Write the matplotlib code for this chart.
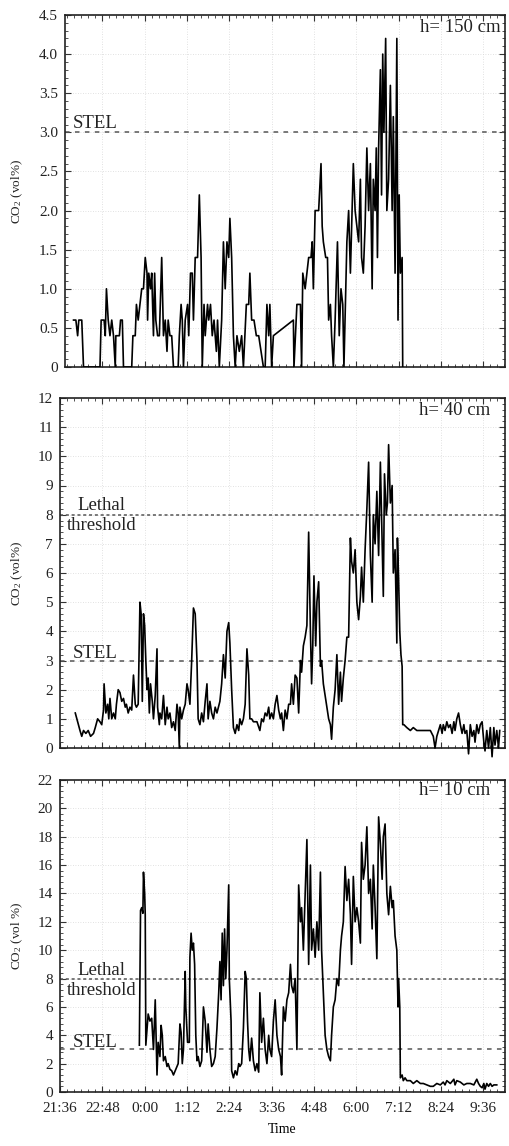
import matplotlib
matplotlib.use('Agg')
import matplotlib.pyplot as plt
from matplotlib.ticker import FixedLocator, AutoMinorLocator

plt.rcParams['font.family'] = ['Liberation Serif', 'DejaVu Serif']
plt.rcParams['mathtext.fontset'] = 'custom'
plt.rcParams['mathtext.rm'] = 'Liberation Serif'
plt.rcParams['mathtext.it'] = 'Liberation Serif:italic'

# ---------------- data (time in minutes after 21:36) ----------------
time_ticks = [0, 72, 144, 216, 288, 360, 432, 504, 576, 648, 720]
time_labels = ['21:36', '22:48', '0:00', '1:12', '2:24', '3:36',
               '4:48', '6:00', '7:12', '8:24', '9:36']

STEL = 3.0
LETHAL = 8.0

# h = 150 cm
t150 = [23, 27, 30, 32, 37, 40, 68, 70, 75, 77, 79, 82, 85, 88, 91, 94, 95, 101,
        103, 106, 108, 122, 124, 128, 130, 133, 136, 139, 142, 145, 148, 149, 151,
        154, 156, 159, 161, 163, 166, 169, 173, 176, 179, 182, 184, 187, 190, 193,
        201, 203, 206, 208, 210, 213, 217, 219, 222, 225, 227, 230, 234, 237, 240,
        242, 245, 247, 251, 253, 256, 259, 262, 266, 268, 271, 275, 278, 281, 284,
        287, 289, 292, 295, 298, 301, 305, 309, 312, 317, 321, 323, 326, 330, 334,
        338, 346, 349, 352, 355, 357, 360, 363, 397, 398, 403, 409, 411, 413, 417,
        420, 423, 427, 429, 431, 434, 440, 444, 446, 448, 452, 455, 457, 460, 462,
        465, 468, 472, 475, 478, 481, 483, 488, 491, 494, 499, 502, 505, 508, 511,
        513, 516, 519, 522, 525, 528, 531, 533, 536, 538, 540, 542, 545, 547, 549,
        551, 554, 556, 559, 562, 565, 567, 570, 573, 575, 577, 579, 582, 583]
co2_150 = [0.6, 0.6, 0.4, 0.6, 0.6, 0, 0, 0.6, 0.6, 0.4, 1.0, 0.6, 0.4, 0.6, 0.4, 0, 0.4, 0.4,
           0.6, 0.6, 0, 0, 0.4, 0.4, 0.8, 0.6, 0.8, 1.0, 1.0, 1.4, 1.2, 0.6, 1.2,
           1.0, 1.2, 0.4, 1.2, 0.6, 0.4, 0.4, 1.4, 0.4, 0.6, 0.2, 0.6, 0.4, 0.4, 0,
           0, 0.4, 0.8, 0.6, 0, 0.6, 0.8, 0.4, 1.2, 1.2, 0.6, 1.4, 1.4, 2.2, 1.4,
           0, 0.8, 0.4, 0.8, 0.6, 0.8, 0.4, 0.6, 0.2, 0.6, 0, 0.6, 1.6, 1.0, 1.6,
           1.4, 1.9, 1.4, 0.4, 0, 0.4, 0.2, 0.4, 0, 0.8, 0.8, 1.2, 0.6, 0.6, 0.4,
           0.4, 0, 0, 0.8, 0.4, 0.8, 0, 0.4, 0.6, 0, 0.8, 0.8, 0, 1.2, 1.0,
           1.2, 1.4, 1.4, 1.6, 1.0, 2.0, 2.0, 2.6, 1.8, 1.6, 1.4, 1.4, 0.6, 0.8, 0.4,
           0, 0.6, 1.6, 0.4, 1.0, 0.8, 0, 1.6, 2.0, 1.2, 2.6, 2.0, 1.8, 1.6, 2.4,
           1.4, 1.2, 1.8, 2.8, 2.0, 2.6, 1.0, 2.4, 2.0, 2.8, 1.4, 2.8, 3.8, 2.2, 4.0,
           3.0, 4.2, 2.0, 2.4, 3.6, 2.0, 3.2, 1.2, 4.2, 0.6, 2.2, 1.2, 1.4, 0]

# h = 40 cm
t40 = [26, 30, 34, 37, 40, 44, 48, 52, 57, 60, 64, 68, 71, 74, 75, 78, 81, 83, 85, 88,
       91, 94, 96, 99, 102, 105, 108, 111, 113, 116, 119, 122, 125, 128, 130, 133,
       136, 138, 140, 142, 144, 146, 148, 150, 152, 154, 157, 159, 162, 165, 166,
       169, 170, 173, 176, 179, 182, 184, 187, 190, 193, 196, 199, 201, 203, 204,
       207, 210, 213, 216, 218, 221, 224, 227, 230, 233, 235, 238, 241, 244, 247,
       250, 252, 255, 258, 261, 264, 267, 272, 275, 278, 281, 284, 287, 289, 292,
       295, 298, 301, 304, 306, 309, 312, 315, 318, 321, 323, 326, 329, 335, 340,
       343, 346, 349, 352, 355, 357, 360, 363, 366, 369, 372, 375, 377, 380, 383,
       386, 389, 392, 394, 397, 400, 403, 406, 409, 411, 414, 417, 420, 423, 426,
       428, 430, 432, 435, 437, 440, 443, 445, 448, 451, 454, 457, 460, 462, 465,
       468, 471, 474, 477, 479, 482, 485, 488, 491, 494, 496, 499, 502, 505, 508,
       511, 513, 516, 519, 522, 525, 528, 531, 533, 536, 539, 542, 545, 548, 550,
       552, 555, 557, 559, 562, 565, 567, 570, 573, 574, 576, 578, 580, 582, 583,
       585, 590, 596, 601, 607, 613, 618, 624, 630, 635, 638, 641, 644, 647, 650,
       652, 655, 658, 661, 664, 667, 670, 672, 675, 678, 681, 684, 687, 689, 692,
       695, 698, 701, 704, 706, 709, 712, 715, 718, 721, 723, 726, 729, 732, 735,
       738, 740, 743, 746, 748]
co2_40 = [1.2, 0.9, 0.6, 0.4, 0.6, 0.5, 0.6, 0.4, 0.5, 0.7, 1.0, 0.9, 0.8, 1.3, 2.2, 1.2, 1.5, 1.0, 1.7, 1.0,
          1.2, 1.0, 1.5, 2.0, 1.9, 1.6, 1.7, 1.4, 1.5, 1.2, 1.4, 1.3, 2.5, 1.5, 1.4, 1.5,
          5.0, 4.6, 1.6, 4.6, 4.2, 3.0, 2.0, 2.4, 1.2, 2.2, 1.6, 1.0, 1.8, 3.4, 1.4,
          0.8, 1.2, 1.0, 1.8, 0.8, 1.4, 1.0, 1.2, 0.7, 0.9, 0.6, 1.5, 1.2, 0.0, 1.4,
          1.0, 1.3, 1.5, 2.2, 2.0, 1.5, 3.0, 4.8, 4.6, 3.0, 1.0, 0.8, 1.2, 0.9, 1.6,
          2.2, 1.0, 1.6, 1.2, 1.0, 1.4, 1.2, 1.6, 2.2, 3.2, 2.4, 4.0, 4.3, 3.6, 2.0,
          0.7, 0.5, 0.8, 0.6, 1.0, 0.8, 1.0, 1.5, 3.4, 2.5, 1.0, 1.0, 0.9, 0.9, 0.6,
          1.0, 0.9, 1.2, 1.1, 1.4, 1.0, 1.2, 1.0, 1.5, 1.8, 1.3, 1.0, 1.2, 0.6, 1.3,
          1.0, 1.5, 1.5, 2.2, 1.5, 2.5, 2.4, 1.2, 3.0, 2.6, 3.5, 3.8, 4.2, 7.4, 4.0,
          2.2, 3.5, 5.9, 3.5, 5.0, 5.7, 2.8, 3.0, 2.2, 1.8, 1.4, 1.0, 0.8, 0.3, 1.4,
          2.0, 3.2, 1.5, 2.6, 1.6, 2.4, 3.0, 3.8, 3.8, 7.2, 6.4, 6.0, 6.8, 5.0, 4.4,
          5.2, 6.2, 5.0, 6.8, 8.2, 9.8, 6.6, 5.0, 8.0, 7.0, 8.8, 6.6, 9.8, 7.0, 5.2,
          9.4, 8.0, 8.4, 10.4, 8.4, 9.0, 6.0, 6.8, 3.6, 7.2, 5.8, 4.0, 3.2, 2.8, 0.8,
          0.8, 0.7, 0.6, 0.7, 0.6, 0.6, 0.6, 0.6, 0.6, 0.4, 0.0, 0.4, 0.6, 0.8, 0.5,
          0.8, 0.6, 0.9, 0.7, 0.8, 0.5, 0.9, 0.6, 1.0, 1.2, 0.8, 0.5, 0.8, 0.5, 0.6,
          -0.2, 0.8, 0.4, 0.6, 0.2, 0.8, 0.5, 0.8, 0.9, 0.2, -0.1, 0.6, 0.0, 0.7, -0.3,
          0.7, 0.1, 0.6, 0.0, 0.6]

# h = 10 cm
t10 = [135, 137, 139, 141, 142, 144, 145, 146, 150, 153, 156, 159, 162, 165, 167, 170,
       172, 174, 176, 179, 182, 184, 187, 190, 193, 196, 199, 201, 204, 206, 208,
       210, 213, 214, 217, 220, 221, 223, 225, 227, 229, 231, 233, 235, 238, 241,
       244, 247, 250, 252, 255, 258, 261, 264, 267, 270, 272, 274, 276, 278, 280,
       282, 284, 287, 288, 291, 292, 295, 298, 301, 304, 306, 309, 312, 315, 317,
       319, 321, 323, 326, 329, 332, 335, 338, 340, 343, 346, 349, 352, 355, 357,
       360, 363, 366, 369, 372, 375, 377, 380, 383, 386, 389, 392, 394, 397, 400,
       403, 406, 409, 411, 414, 417, 420, 423, 426, 428, 431, 434, 437, 440, 443,
       445, 448, 451, 454, 457, 460, 462, 465, 468, 471, 474, 477, 479, 482, 485,
       488, 491, 494, 496, 499, 502, 505, 508, 511, 513, 516, 519, 522, 525, 528,
       531, 533, 536, 539, 542, 545, 548, 550, 553, 556, 559, 562, 565, 567, 570,
       573, 575, 576, 578, 579, 582, 584, 587, 590, 596, 601, 607, 613, 618, 624,
       630, 635, 641, 647, 652, 655, 658, 664, 670, 672, 675, 681, 687, 692, 698,
       704, 709, 712, 715, 718, 721, 723, 726, 729, 732, 735, 738, 743]
co2_10 = [3.3, 12.8, 13.0, 12.6, 15.5, 14.0, 12.5, 3.3, 5.5, 5.0, 5.2, 3.0, 6.5, 1.2, 3.5, 2.5,
          4.7, 4.0, 2.2, 2.5, 1.8, 2.0, 1.6, 1.5, 1.2, 1.5, 1.8, 2.0, 4.8, 4.2, 2.0,
          3.0, 8.5, 6.0, 3.5, 3.5, 9.5, 11.2, 10.0, 10.5, 9.0, 4.0, 2.2, 2.5, 1.8, 2.2,
          6.0, 5.0, 2.8, 4.8, 3.0, 1.8, 2.0, 2.5, 4.5, 7.0, 9.2, 6.5, 11.2, 7.5, 11.5,
          8.0, 10.0, 14.6, 8.0, 5.0, 1.5, 1.0, 1.5, 1.2, 2.0, 1.8, 2.0, 4.5, 8.5, 8.0,
          5.0, 3.0, 2.2, 3.8, 2.2, 1.5, 2.0, 1.4, 7.0, 3.5, 5.2, 3.0, 2.0, 4.0, 3.0,
          2.5, 5.0, 6.5, 4.0, 3.0, 2.5, 1.2, 6.0, 5.0, 6.5, 7.0, 9.0, 7.5, 7.0, 8.0,
          3.0, 14.6, 12.0, 13.0, 10.0, 14.0, 17.8, 9.0, 16.0, 10.0, 11.5, 9.5, 12.0, 10.0, 15.5,
          10.0, 7.0, 4.0, 3.0, 2.5, 2.2, 4.0, 6.0, 6.5, 8.0, 7.5, 10.0, 11.0, 12.0, 15.9,
          13.5, 15.0, 12.5, 9.0, 15.2, 12.0, 13.0, 12.0, 10.5, 17.6, 15.0, 16.0, 18.7, 14.0, 15.0,
          11.5, 16.0, 13.0, 9.4, 19.4, 17.5, 15.0, 18.0, 18.9, 14.0, 12.5, 14.5, 13.0, 13.5, 11.0,
          10.0, 6.0, 8.0, 6.0, 1.0, 1.2, 0.8, 1.0, 0.8, 0.8, 0.6, 0.8, 0.6, 0.6, 0.5,
          0.4, 0.4, 0.6, 0.5, 0.7, 0.5, 0.8, 0.6, 0.9, 0.5, 0.8, 0.7, 0.5, 0.6, 0.6,
          0.5, 0.9, 0.6, 0.4, 0.3, 0.6, 0.2, 0.6, 0.4, 0.6, 0.4, 0.5, 0.5]

# ---------------- figure ----------------
W, H = 509, 1146
fig = plt.figure(figsize=(W / 100, H / 100), dpi=100)


def frac(l, t, r, b):
    return [l / W, 1 - b / H, (r - l) / W, (b - t) / H]


panels = [
    dict(rect=frac(65, 15, 505, 367), t=t150, y=co2_150, ylim=(0, 4.5),
         yticks=[0, 0.5, 1.0, 1.5, 2.0, 2.5, 3.0, 3.5, 4.0, 4.5],
         ylabels=['0', '0.5', '1.0', '1.5', '2.0', '2.5', '3.0', '3.5', '4.0', '4.5'],
         xlim=(8.5, 757), title='h= 150 cm', tx=0.989, lethal=False,
         ylabel='CO$_2$ (vol%)', stel_off=0.06),
    dict(rect=frac(60, 398, 505, 748), t=t40, y=co2_40, ylim=(0, 12),
         yticks=list(range(0, 13)), ylabels=[str(v) for v in range(0, 13)],
         xlim=(0, 757), title='h= 40 cm', tx=0.966, lethal=True,
         ylabel='CO$_2$ (vol%)', stel_off=0.08, leth_off=(0.17, 0.52)),
    dict(rect=frac(60, 780, 505, 1092), t=t10, y=co2_10, ylim=(0, 22),
         yticks=list(range(0, 23, 2)), ylabels=[str(v) for v in range(0, 23, 2)],
         xlim=(0, 757), title='h= 10 cm', tx=0.966, lethal=True,
         ylabel='CO$_2$ (vol %)', stel_off=0.16, leth_off=(0.26, 1.16)),
]

axes = []
for i, p in enumerate(panels):
    ax = fig.add_axes(p['rect'])
    axes.append(ax)
    ax.plot(p['t'], p['y'], color='black', lw=1.2, zorder=3, clip_on=(i != 1))
    ax.set_xlim(*p['xlim'])
    ax.set_ylim(*p['ylim'])
    ax.xaxis.set_major_locator(FixedLocator(time_ticks))
    ax.xaxis.set_minor_locator(AutoMinorLocator(6))
    ax.yaxis.set_major_locator(FixedLocator(p['yticks']))
    ax.yaxis.set_minor_locator(AutoMinorLocator(5))
    ax.set_yticklabels(p['ylabels'])
    if i == 2:
        ax.set_xticklabels(time_labels)
        ax.set_xlabel('Time', fontsize=10, labelpad=6)
    else:
        ax.set_xticklabels([])
    ax.tick_params(which='both', direction='in', top=True, right=True,
                   labelsize=11, colors='#333333', labelcolor='#222222')
    ax.tick_params(which='major', length=4, width=0.8, pad=5)
    ax.tick_params(which='minor', length=2, width=0.6)
    ax.tick_params(axis='x', which='major', pad=7)
    ax.grid(True, which='major', color='#d8d8d8', lw=0.6, ls=(0, (1, 2)), zorder=0)
    for s in ax.spines.values():
        s.set_color('#222222')
        s.set_linewidth(1.2)

    ax.axhline(STEL, color='#555555', lw=1.1, ls=(0, (3, 3.5)), zorder=2)
    ax.text(22, STEL + p['stel_off'], 'STEL', fontsize=13.5, color='#222222',
            ha='left', va='baseline')
    if p['lethal']:
        ax.axhline(LETHAL, color='#555555', lw=1.1, ls=(0, (2, 1.8)), zorder=2)
        ax.text(71, LETHAL + p['leth_off'][0], 'Lethal', fontsize=13.5,
                color='#222222', ha='center', va='baseline')
        ax.text(71, LETHAL - p['leth_off'][1], 'threshold', fontsize=13.5,
                color='#222222', ha='center', va='baseline')
    ax.text(p['tx'], 0.951, p['title'], transform=ax.transAxes, fontsize=13.5,
            color='#222222', ha='right', va='baseline')

    ax.set_ylabel(p['ylabel'], fontsize=9.5, color='#222222')
    left_px = p['rect'][0] * W
    width_px = p['rect'][2] * W
    ax.yaxis.set_label_coords((25 - left_px) / width_px, 0.5)

fig.savefig('out.png', dpi=100)
